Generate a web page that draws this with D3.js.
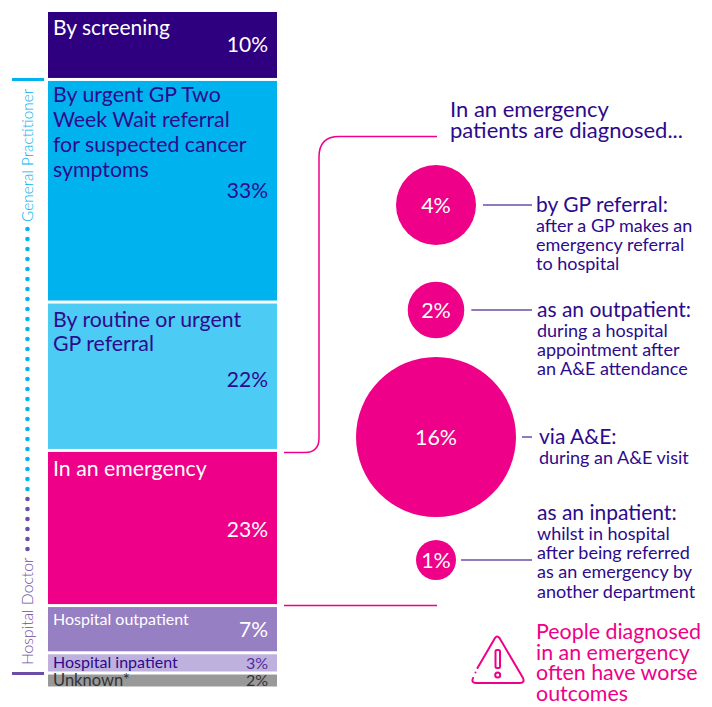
<!DOCTYPE html>
<html>
<head>
<meta charset="utf-8">
<script src="https://cdn.jsdelivr.net/npm/d3@7/dist/d3.min.js"></script>
<style>
html,body{margin:0;padding:0;background:#fff}
svg{display:block}
text{font-family:Lato,"Open Sans",sans-serif}
</style>
</head>
<body>
<svg id="chart" width="712" height="707"></svg>
<script>
// Routes to diagnosis: stacked column, percent of all patients
const routes = ["By screening","By urgent GP Two Week Wait referral","By routine or urgent GP referral","In an emergency","Hospital outpatient","Hospital inpatient","Unknown*"];
const routeLines = [["By screening"],["By urgent GP Two","Week Wait referral","for suspected cancer","symptoms"],["By routine or urgent","GP referral"],["In an emergency"],["Hospital outpatient"],["Hospital inpatient"],["Unknown*"]];
const routeValues = [10,33,22,23,7,3,2];
const routeFill = ["#2e0080","#00b3ee","#4ccbf5","#ee0088","#967fc3","#bfb1dd","#999999"];
const routeInk = ["#ffffff","#2e0a8c","#2e0a8c","#ffffff","#ffffff","#2e0a8c","#333333"];
const valueInk = ["#ffffff","#2e0a8c","#2e0a8c","#ffffff","#ffffff","#4f2ea0","#333333"];
const labelSize = [21,21.3,21.3,21.3,16,16,16.5];
const valueSize = [21,21,21,21,21,16,16];

// Emergency breakdown: circle area follows the percent
const emergencyValues = [4,2,16,1];
const emergencyHeads = ["by GP referral:","as an outpatient:","via A&E:","as an inpatient:"];
const emergencyBodies = [["after a GP makes an","emergency referral","to hospital"],["during a hospital","appointment after","an A&E attendance"],["during an A&E visit"],["whilst in hospital","after being referred","as an emergency by","another department"]];
const emergencyY = [205,310,437,560];
const emergencyCx = [436,436,436,436];
const leaderStartGap = [7,7,6,5];
const leaderEnd = [532,532,532,532];
const textX = [536,537,539,537];
const headBaselines = [212,317,444,520];

const PURPLE="#2e0a8c", PINK="#ee0088", BLUE="#00b3ee", MID="#6b4ca6";
const svg=d3.select("#chart");

const y=d3.scaleLinear().domain([0,100]).range([12,686.5]);
const r=d3.scaleSqrt().domain([0,16]).range([0,80]);
const x0=48, x1=277, gap=3;

let cum=0;
const stack=routeValues.map((v,i)=>{const d={i,v,y0:y(cum),y1:y(cum+v)};cum+=v;return d;});

const bars=svg.append("g").selectAll("g").data(stack).join("g");
bars.append("rect").attr("x",x0).attr("width",x1-x0)
  .attr("y",d=>d.y0+(d.i?gap/2:0)).attr("height",d=>d.y1-d.y0-(d.i?gap/2:0)-(d.i<6?gap/2:0))
  .attr("fill",d=>routeFill[d.i]);

const labelBaselines=[[35],[102,127,152,177],[327,351],[476],[625],[668],[686]];
const valueBaselines=[52,198,387,537,637,669,686];
bars.each(function(d){
  const g=d3.select(this);
  routeLines[d.i].forEach((t,k)=>g.append("text").attr("x",53).attr("y",labelBaselines[d.i][k])
    .attr("font-size",labelSize[d.i]).attr("fill",routeInk[d.i]).text(t));
  g.append("text").attr("x",268).attr("y",valueBaselines[d.i]).attr("text-anchor","end")
    .attr("font-size",valueSize[d.i]).attr("fill",valueInk[d.i]).text(d.v+"%");
});

// Side rail naming who made the referral
svg.append("line").attr("x1",12).attr("x2",44).attr("y1",79.5).attr("y2",79.5).attr("stroke",BLUE).attr("stroke-width",3);
svg.append("line").attr("x1",12).attr("x2",44).attr("y1",673.5).attr("y2",673.5).attr("stroke",MID).attr("stroke-width",3);
svg.append("g").selectAll("circle").data(d3.range(229,552,10)).join("circle")
  .attr("cx",27.5).attr("cy",d=>d).attr("r",2.3).attr("fill",d=>d<493?BLUE:MID);
svg.append("text").attr("transform","translate(33,222) rotate(-90)").attr("font-size",15.4).attr("font-weight",300).attr("fill",BLUE).text("General Practitioner");
svg.append("text").attr("transform","translate(33,665) rotate(-90)").attr("font-size",15.7).attr("font-weight",300).attr("fill",MID).text("Hospital Doctor");

// Brackets joining the emergency bar to its breakdown
svg.append("path").attr("fill","none").attr("stroke",PINK).attr("stroke-width",1.5)
  .attr("d","M284,452.5H305Q319,452.5 319,438V157Q319,136.5 339,136.5H437");
svg.append("line").attr("x1",284).attr("x2",437).attr("y1",605.5).attr("y2",605.5).attr("stroke",PINK).attr("stroke-width",1.5);

svg.append("text").attr("font-size",22).attr("fill",PURPLE).selectAll("tspan")
  .data(["In an emergency","patients are diagnosed..."]).join("tspan").attr("x",450).attr("y",(d,i)=>117+i*21).text(d=>d);

const items=svg.append("g").selectAll("g").data(emergencyValues).join("g");
items.append("circle").attr("cx",(d,i)=>emergencyCx[i]).attr("cy",(d,i)=>emergencyY[i]).attr("r",d=>r(d)).attr("fill",PINK);
items.append("text").attr("x",(d,i)=>emergencyCx[i]).attr("y",(d,i)=>emergencyY[i]+7.5).attr("text-anchor","middle")
  .attr("font-size",21.5).attr("fill","#fff").text(d=>d+"%");
items.append("line").attr("x1",(d,i)=>emergencyCx[i]+r(d)+leaderStartGap[i]).attr("x2",(d,i)=>leaderEnd[i])
  .attr("y1",(d,i)=>emergencyY[i]).attr("y2",(d,i)=>emergencyY[i]).attr("stroke",MID).attr("stroke-width",1.5);
items.each(function(d,i){
  const g=d3.select(this);
  g.append("text").attr("x",textX[i]).attr("y",headBaselines[i]).attr("font-size",21).attr("fill",PURPLE).text(emergencyHeads[i]);
  emergencyBodies[i].forEach((t,k)=>g.append("text").attr("x",textX[i]).attr("y",headBaselines[i]+20+k*19.2)
    .attr("font-size",18).attr("fill",PURPLE).text(t));
});

// Warning triangle and closing message
const warn=svg.append("g").attr("fill","none").attr("stroke",PINK).attr("stroke-width",2).attr("stroke-linecap","round").attr("stroke-linejoin","round");
warn.append("path").attr("d","M477.5,668L495,638Q497,635 499.5,638L523,678Q525,683 520,683H476Q471,683 473,678");
warn.append("path").attr("d","M475.5,672.5V672.6");
warn.append("rect").attr("x",495.5).attr("y",650).attr("width",4.5).attr("height",18).attr("rx",1.5);
warn.append("circle").attr("cx",497.7).attr("cy",675).attr("r",2.5);
svg.append("text").attr("font-size",21.4).attr("fill",PINK).selectAll("tspan")
  .data(["People diagnosed","in an emergency","often have worse","outcomes"]).join("tspan").attr("x",536).attr("y",(d,i)=>639+i*20.5).text(d=>d);
</script>
</body>
</html>
